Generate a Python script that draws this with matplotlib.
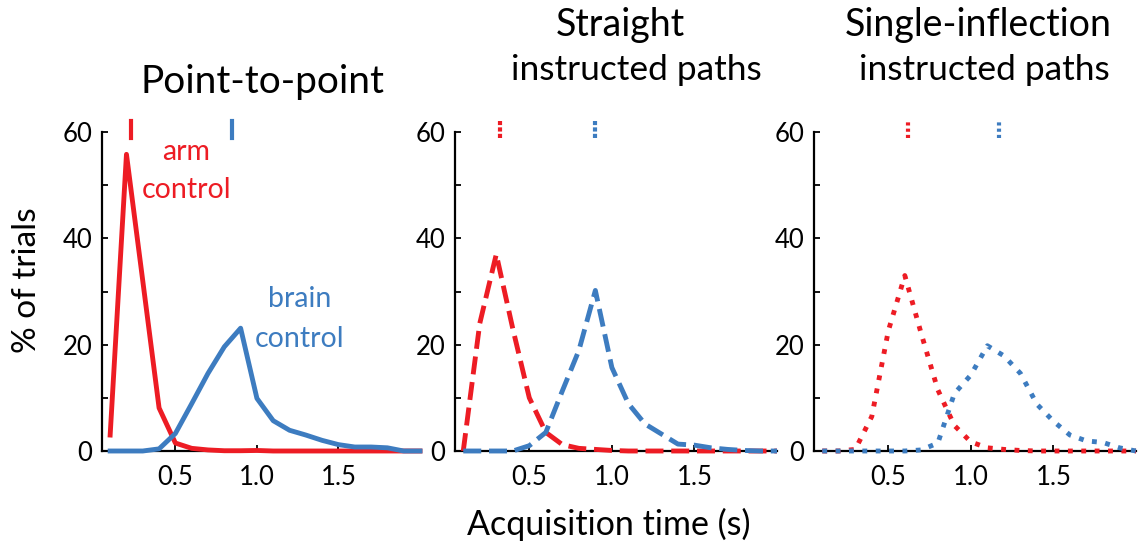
import matplotlib
matplotlib.use("Agg")
import matplotlib.pyplot as plt

plt.rcParams['font.family'] = ['Lato', 'DejaVu Sans']

# ---- data ----
time_bins = [0.1, 0.2, 0.3, 0.4, 0.5, 0.6, 0.7, 0.8, 0.9, 1.0,
             1.1, 1.2, 1.3, 1.4, 1.5, 1.6, 1.7, 1.8, 1.9, 2.0]

p2p_arm = [3.0, 55.8, 32.0, 8.1, 1.5, 0.5, 0.2, 0.05, 0.05, 0.1,
           0.0, 0.0, 0.0, 0.0, 0.0, 0.0, 0.0, 0.0, 0.0, 0.0]
p2p_brain = [0.0, 0.0, 0.0, 0.4, 3.3, 8.9, 14.6, 19.6, 23.1, 9.9,
             5.7, 3.9, 3.0, 2.0, 1.2, 0.75, 0.75, 0.6, 0.0, 0.0]

straight_arm = [0.0, 24.0, 37.0, 23.0, 10.0, 3.5, 1.2, 0.5, 0.3, 0.1,
                0.0, 0.0, 0.0, 0.0, 0.0, 0.0, 0.0, 0.0, 0.0, 0.0]
straight_brain = [0.0, 0.0, 0.0, 0.0, 1.0, 3.5, 11.3, 18.9, 30.2, 15.7,
                  8.9, 5.1, 3.2, 1.3, 1.1, 0.6, 0.3, 0.1, 0.0, 0.0]

inflect_arm = [0.0, 0.0, 0.3, 6.5, 22.6, 33.0, 22.0, 11.5, 4.8, 1.7,
               0.6, 0.3, 0.1, 0.0, 0.0, 0.0, 0.0, 0.0, 0.0, 0.0]
inflect_brain = [0.0, 0.0, 0.0, 0.0, 0.0, 0.0, 0.2, 1.5, 10.8, 14.3,
                 19.8, 17.9, 14.6, 8.8, 5.6, 3.0, 1.9, 1.6, 0.6, 0.0]

# median acquisition times (markers at top)
median_arm = [0.23, 0.325, 0.62]
median_brain = [0.85, 0.90, 1.17]

titles = [["Point-to-point"], ["Straight", "instructed paths"],
          ["Single-inflection", "instructed paths"]]
x_ticks = [0.5, 1.0, 1.5]
x_ticklabels = ["0.5", "1.0", "1.5"]
y_ticks = [0, 10, 20, 30, 40, 50, 60]
y_ticklabels = ["0", "", "20", "", "40", "", "60"]

RED = '#ED1C24'
BLUE = '#3D7CC0'

W, H = 1144, 549
fig = plt.figure(figsize=(W / 100, H / 100), dpi=100)

def px_axes(left, top, right, bottom):
    return fig.add_axes([left / W, 1 - bottom / H, (right - left) / W, (bottom - top) / H])

axes = [px_axes(102, 132, 420, 451),
        px_axes(455, 132, 777, 451),
        px_axes(814, 132, 1136, 451)]

series = [(p2p_arm, p2p_brain), (straight_arm, straight_brain), (inflect_arm, inflect_brain)]
styles = ['-', (0, (3.7, 1.6)), (0, (1.0, 1.75))]
mstyles = ['-', (0, (1.0, 0.55)), (0, (0.75, 0.75))]

for i, ax in enumerate(axes):
    arm, brain = series[i]
    ax.plot(time_bins, arm, color=RED, lw=3.5, linestyle=styles[i], clip_on=False, zorder=3)
    ax.plot(time_bins, brain, color=BLUE, lw=3.5, linestyle=styles[i], clip_on=False, zorder=3)
    ax.plot([median_arm[i]] * 2, [58.9, 62.0], color=RED, lw=3.0, linestyle=mstyles[i], clip_on=False)
    ax.plot([median_brain[i]] * 2, [58.9, 62.0], color=BLUE, lw=3.0, linestyle=mstyles[i], clip_on=False)
    ax.set_xlim(0.05, 2.0)
    ax.set_ylim(0, 60)
    ax.spines['top'].set_visible(False)
    ax.spines['right'].set_visible(False)
    for s in ['left', 'bottom']:
        ax.spines[s].set_linewidth(1.6)
    ax.set_xticks(x_ticks)
    ax.set_xticklabels(x_ticklabels)
    ax.set_yticks(y_ticks)
    ax.set_yticklabels(y_ticklabels)
    ax.tick_params(axis='both', direction='in', length=4, width=1.3, labelsize=18.5)
    ax.tick_params(axis='x', pad=10)
    ax.tick_params(axis='y', pad=7)
    ax.patch.set_visible(False)

# annotations in the first panel
ax0 = axes[0]
ax0.text(0.567, 54.7, "arm", color=RED, fontsize=20.5, ha='center', va='baseline')
ax0.text(0.567, 47.5, "control", color=RED, fontsize=20.5, ha='center', va='baseline')
ax0.text(1.264, 27.0, "brain", color=BLUE, fontsize=20.5, ha='center', va='baseline')
ax0.text(1.264, 19.6, "control", color=BLUE, fontsize=20.5, ha='center', va='baseline')

# titles
title_pos = [[(262, 93)], [(620, 36), (636, 80)], [(978, 36), (984, 80)]]
title_sizes = [[28], [27, 25.5], [27, 25.5]]
for lines, poss, sizes in zip(titles, title_pos, title_sizes):
    for txt, (x, y), fs in zip(lines, poss, sizes):
        fig.text(x / W, 1 - y / H, txt, fontsize=fs, ha='center', va='baseline')

fig.text(609 / W, 1 - 535 / H, "Acquisition time (s)", fontsize=24.5, ha='center', va='baseline')
fig.text(27 / W, 1 - 280 / H, "% of trials", fontsize=24, ha='center', va='center', rotation=90)

fig.savefig("out.png", dpi=100)
